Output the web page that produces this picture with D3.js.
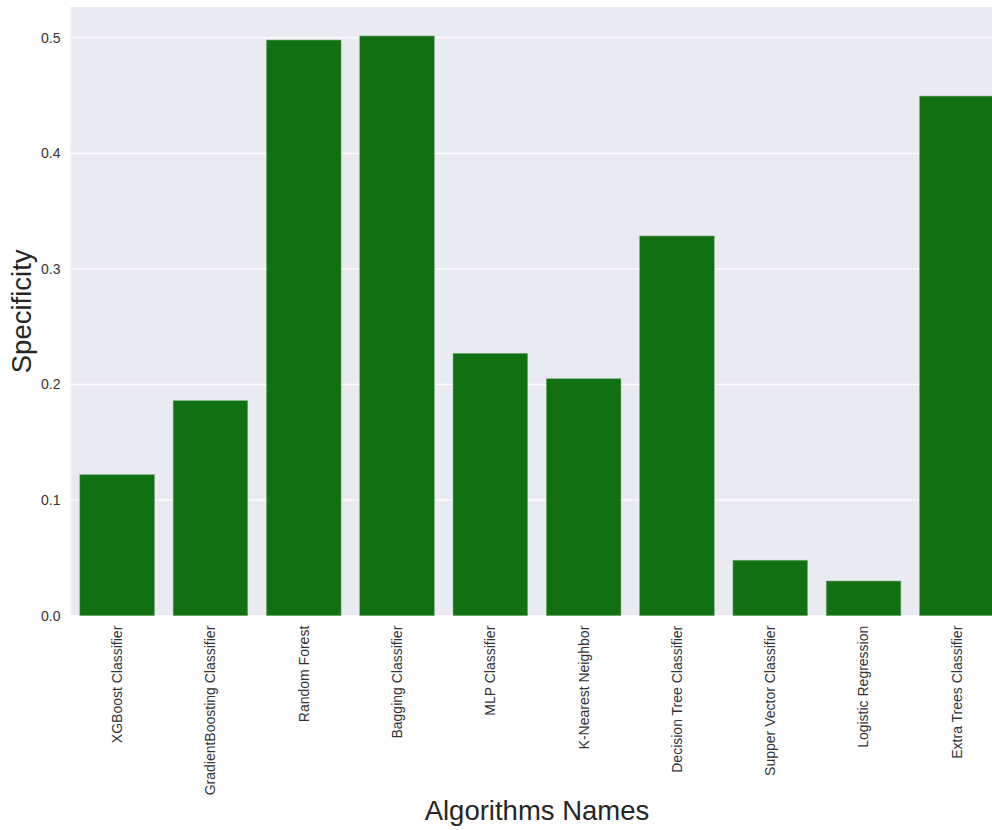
<!DOCTYPE html>
<html>
<head>
<meta charset="utf-8">
<script src="https://cdn.jsdelivr.net/npm/d3@7"></script>
<style>
  body { margin: 0; background: #fff; }
  #chart { width: 992px; height: 830px; overflow: hidden; }
</style>
</head>
<body>
<div id="chart"></div>
<script>
// data
const algorithms = [
    'XGBoost Classifier', 'GradientBoosting Classifier', 'Random Forest', 'Bagging Classifier',
    'MLP Classifier', 'K-Nearest Neighbor', 'Decision Tree Classifier', 'Supper Vector Classifier',
    'Logistic Regression', 'Extra Trees Classifier'
];
const specificity = [0.122, 0.186, 0.498, 0.5015, 0.227, 0.205, 0.3285, 0.048, 0.030, 0.4495];
const yTicks = [0.0, 0.1, 0.2, 0.3, 0.4, 0.5];

const chartData = algorithms.map((name, i) => ({ label: name, value: specificity[i] }));

const margin = { top: 7, left: 70.5 };
const width = 933;
const height = 608.7;
const font = '"Liberation Sans", Arial, sans-serif';

const svg = d3.select('#chart')
    .append('svg')
    .attr('width', 992)
    .attr('height', 830)
    .style('font-family', font);

const g = svg.append('g')
    .attr('transform', `translate(${margin.left}, ${margin.top})`);

const x = d3.scaleBand()
    .domain(algorithms)
    .range([0, width])
    .paddingInner(0.2)
    .paddingOuter(0.1);

const y = d3.scaleLinear()
    .domain([0, 0.5])
    .range([height, height - 0.5 * 1156]);

// background
g.append('rect')
    .attr('width', width)
    .attr('height', height)
    .attr('fill', '#eaeaf2');

// grid lines
g.selectAll('.grid')
    .data(yTicks)
    .enter()
    .append('line')
    .attr('x1', 0)
    .attr('x2', width)
    .attr('y1', d => y(d))
    .attr('y2', d => y(d))
    .attr('stroke', '#fff')
    .attr('stroke-width', 1.3);

// bars
g.selectAll('.bar')
    .data(chartData)
    .enter()
    .append('rect')
    .attr('x', d => x(d.label))
    .attr('y', d => y(d.value))
    .attr('width', x.bandwidth())
    .attr('height', d => y(0) - y(d.value))
    .attr('fill', '#117011')
    .attr('stroke', '#7fae7f')
    .attr('stroke-width', 0.6);

// y axis
const yAxis = g.append('g')
    .call(d3.axisLeft(y).tickValues(yTicks).tickFormat(d3.format('.1f')).tickSize(0).tickPadding(10));
yAxis.select('.domain').remove();
yAxis.selectAll('text')
    .style('font-family', font)
    .style('font-size', '14px')
    .attr('fill', '#333');

// x axis
const xAxis = g.append('g')
    .attr('transform', `translate(0, ${height})`)
    .call(d3.axisBottom(x).tickSize(0).tickPadding(0));
xAxis.select('.domain').remove();
xAxis.selectAll('text')
    .attr('transform', 'rotate(-90)')
    .attr('text-anchor', 'end')
    .attr('x', -10)
    .attr('y', 0)
    .attr('dy', '0.35em')
    .style('font-family', font)
    .style('font-size', '14px')
    .attr('fill', '#333');

// axis titles
svg.append('text')
    .attr('x', margin.left + width / 2)
    .attr('y', 820)
    .attr('text-anchor', 'middle')
    .style('font-size', '27.5px')
    .attr('fill', '#262626')
    .text('Algorithms Names');

svg.append('text')
    .attr('transform', `translate(31, ${margin.top + height / 2}) rotate(-90)`)
    .attr('text-anchor', 'middle')
    .style('font-size', '27.5px')
    .attr('fill', '#262626')
    .text('Specificity');
</script>
</body>
</html>
